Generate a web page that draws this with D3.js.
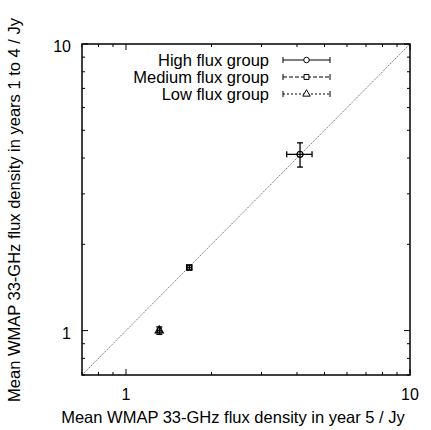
<!DOCTYPE html>
<html lang="en">
<head>
<meta charset="UTF-8">
<title>WMAP flux comparison</title>
<style>
  body { margin: 0; background: #fff; }
  svg text { font-family: 'Liberation Sans', Arial, sans-serif; fill: #000; }
</style>
<script src="https://d3js.org/d3.v7.min.js"></script>
</head>
<body>
<div id="chart"></div>
<script>
// data
const groups = ["High flux group", "Medium flux group", "Low flux group"];
const xMean = [4.10, 1.67, 1.31];
const xErr  = [0.42, 0.03, 0.02];
const yMean = [4.12, 1.66, 1.00];
const yErr  = [0.40, 0.03, 0.03];
const dashes = [null, "4,2", "2,2"];
const symbols = [d3.symbolCircle, d3.symbolSquare, d3.symbolTriangle];
const tickVals = [1, 10];
const domain = [0.7, 10];

const W = 431, H = 430;
const m = {left: 82, right: 21, top: 44, bottom: 55};

const svg = d3.select("#chart").append("svg")
    .attr("width", W).attr("height", H);

const x = d3.scaleLog().domain(domain).range([m.left, W - m.right]);
const y = d3.scaleLog().domain(domain).range([H - m.bottom, m.top]);

// minor ticks 2..9 of each decade
const minor = [];
for (let d = 0.1; d < 10; d *= 10)
  for (let k = 2; k <= 9; k++) {
    const v = k * d;
    if (v >= domain[0] && v <= domain[1]) minor.push(v);
  }

const g = svg.append("g");
const x0 = m.left, x1 = W - m.right, y0 = H - m.bottom, y1 = m.top;

function ticks(vals, len) {
  vals.forEach(v => {
    g.append("line").attr("x1", x(v)).attr("x2", x(v)).attr("y1", y0).attr("y2", y0 - len).attr("stroke", "#000");
    g.append("line").attr("x1", x(v)).attr("x2", x(v)).attr("y1", y1).attr("y2", y1 + len).attr("stroke", "#000");
    g.append("line").attr("y1", y(v)).attr("y2", y(v)).attr("x1", x0).attr("x2", x0 + len).attr("stroke", "#000");
    g.append("line").attr("y1", y(v)).attr("y2", y(v)).attr("x1", x1).attr("x2", x1 - len).attr("stroke", "#000");
  });
}
ticks(tickVals, 6);
ticks(minor, 3);

// diagonal y = x
svg.append("line")
    .attr("x1", x(domain[0])).attr("y1", y(domain[0]))
    .attr("x2", x(domain[1])).attr("y2", y(domain[1]))
    .attr("stroke", "#777").attr("stroke-width", 1).attr("stroke-dasharray", "1.5,1");

// frame
svg.append("rect").attr("x", x0).attr("y", y1)
    .attr("width", x1 - x0).attr("height", y0 - y1)
    .attr("fill", "none").attr("stroke", "#000").attr("stroke-width", 1.5);

// tick labels
tickVals.forEach(v => {
  svg.append("text").attr("x", x(v)).attr("y", y0 + 25)
      .attr("text-anchor", "middle").attr("font-size", 16).text(v);
  svg.append("text").attr("x", x0 - 11).attr("y", y(v) + 8)
      .attr("text-anchor", "end").attr("font-size", 16).text(v);
});

// axis titles
svg.append("text").attr("x", 233).attr("y", 423)
    .attr("text-anchor", "middle").attr("font-size", 16.5)
    .text("Mean WMAP 33-GHz flux density in year 5 / Jy");
svg.append("text").attr("transform", "translate(20,210) rotate(-90)")
    .attr("text-anchor", "middle").attr("font-size", 16.5)
    .text("Mean WMAP 33-GHz flux density in years 1 to 4 / Jy");

// error bars and points
const cap = 3;
groups.forEach((name, i) => {
  const cx = x(xMean[i]), cy = y(yMean[i]);
  const pg = svg.append("g").attr("stroke", "#000").attr("stroke-width", 1.3);
  const xa = x(xMean[i] - xErr[i]), xb = x(xMean[i] + xErr[i]);
  const ya = y(yMean[i] - yErr[i]), yb = y(yMean[i] + yErr[i]);
  pg.append("line").attr("x1", xa).attr("x2", xb).attr("y1", cy).attr("y2", cy);
  pg.append("line").attr("x1", cx).attr("x2", cx).attr("y1", ya).attr("y2", yb);
  [xa, xb].forEach(px => pg.append("line").attr("x1", px).attr("x2", px).attr("y1", cy - cap).attr("y2", cy + cap));
  [ya, yb].forEach(py => pg.append("line").attr("y1", py).attr("y2", py).attr("x1", cx - cap).attr("x2", cx + cap));
  pg.append("path").attr("d", d3.symbol(symbols[i], 28)())
      .attr("transform", "translate(" + cx + "," + cy + ")")
      .attr("fill", "none");
});

// legend
const lx0 = 283, lx1 = 330, ly = [60, 77, 94];
groups.forEach((name, i) => {
  svg.append("text").attr("x", 269).attr("y", ly[i] + 6)
      .attr("text-anchor", "end").attr("font-size", 16.5).text(name);
  const lg = svg.append("g").attr("stroke", "#000").attr("stroke-width", 1);
  lg.append("line").attr("x1", lx0).attr("x2", lx1).attr("y1", ly[i]).attr("y2", ly[i])
      .attr("stroke-dasharray", dashes[i]);
  [lx0, lx1].forEach(px => lg.append("line").attr("x1", px).attr("x2", px).attr("y1", ly[i] - 3).attr("y2", ly[i] + 3));
  lg.append("path").attr("d", d3.symbol(symbols[i], 24)())
      .attr("transform", "translate(" + (lx0 + lx1) / 2 + "," + ly[i] + ")")
      .attr("fill", "#fff");
});
</script>
</body>
</html>
